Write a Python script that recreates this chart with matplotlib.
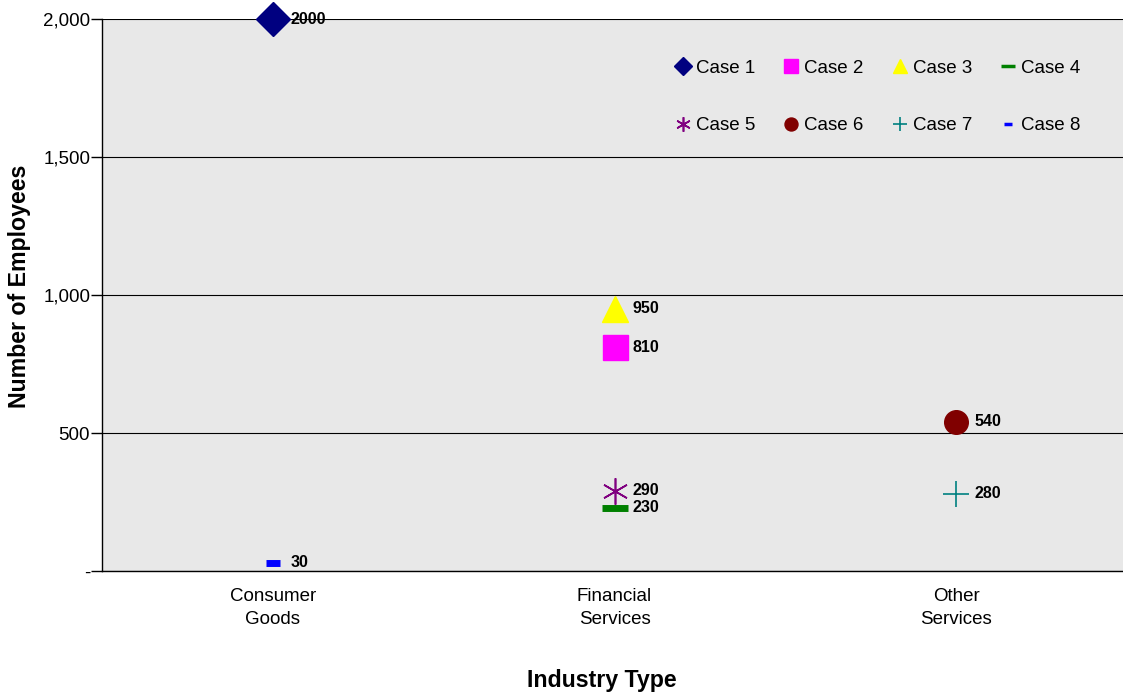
import matplotlib
matplotlib.use("Agg")
import matplotlib.pyplot as plt
from matplotlib.ticker import FixedLocator, FuncFormatter

plt.rcParams['font.family'] = ['Liberation Sans', 'DejaVu Sans']

categories = ["Consumer\nGoods", "Financial\nServices", "Other\nServices"]
case_names = ["Case 1", "Case 2", "Case 3", "Case 4", "Case 5", "Case 6", "Case 7", "Case 8"]
case_category = [0, 1, 1, 1, 1, 2, 2, 0]
case_values = [2000, 810, 950, 230, 290, 540, 280, 30]
case_colors = ["#000080", "#ff00ff", "#ffff00", "#008000", "#800080", "#800000", "#008080", "#0000ff"]
case_markers = ["D", "s", "^", "_", (6, 2, 0), "o", "+", "_"]
case_sizes = [17, 18, 19, 19, 19, 17, 19, 10]
case_edgewidths = [1, 1, 1, 5, 1.2, 1, 1.2, 5]
y_ticks = [0, 500, 1000, 1500, 2000]

W, H = 1123, 693
ax_left, ax_right, ax_top, ax_bottom = 102, 1127, 19, 571

fig = plt.figure(figsize=(W / 100, H / 100), dpi=100)
ax = fig.add_axes([ax_left / W, 1 - ax_bottom / H,
                   (ax_right - ax_left) / W, (ax_bottom - ax_top) / H])
ax.set_facecolor("#e8e8e8")

handles = []
for name, ci, v, col, mk, ms, mew in zip(case_names, case_category, case_values,
                                         case_colors, case_markers, case_sizes, case_edgewidths):
    h, = ax.plot([ci + 0.5], [v], linestyle="none", marker=mk, markersize=ms,
                 color=col, markeredgecolor=col, markeredgewidth=mew, label=name,
                 clip_on=False, zorder=4)
    handles.append(h)
    ax.annotate(str(v), xy=(ci + 0.5, v), xytext=(13, 0), textcoords="offset points",
                fontsize=11.5, fontweight="bold", va="center", ha="left", zorder=5)

ax.set_xlim(0, 3)
ax.set_ylim(0, 2000)
ax.set_xticks([0.5, 1.5, 2.5])
ax.set_xticklabels(categories, fontsize=13.5, linespacing=1.45)
ax.tick_params(axis="x", length=0, pad=12)
ax.yaxis.set_major_locator(FixedLocator(y_ticks))
ax.yaxis.set_major_formatter(FuncFormatter(lambda v, p: "-" if v == 0 else f"{int(v):,}"))
ax.tick_params(axis="y", labelsize=13.5, length=8, width=1, direction="out", pad=0.5)
ax.grid(axis="y", color="#000000", linewidth=0.8)
ax.set_axisbelow(True)
for s in ["top", "right"]:
    ax.spines[s].set_visible(False)
ax.spines["left"].set_linewidth(1)
ax.spines["bottom"].set_linewidth(1)

ax_w = ax_right - ax_left
ax_h = ax_bottom - ax_top
ax.set_xlabel("Industry Type", fontsize=16.7, fontweight="bold", va="center")
ax.xaxis.set_label_coords((602 - ax_left) / ax_w, (ax_bottom - 680) / ax_h)
ax.set_ylabel("Number of Employees", fontsize=16.7, fontweight="bold", va="center")
ax.yaxis.set_label_coords((20 - ax_left) / ax_w, (ax_bottom - 286) / ax_h)

# legend laid out row by row: Case 1-4 on top, Case 5-8 below
order = [0, 4, 1, 5, 2, 6, 3, 7]
leg = ax.legend(handles=[handles[i] for i in order], ncol=4, loc="upper right",
                bbox_to_anchor=((1097 - ax_left) / ax_w, (ax_bottom - 43) / ax_h),
                frameon=False, fontsize=13.5,
                markerscale=0.55, handlelength=0.8, handletextpad=0.3,
                columnspacing=1.5, labelspacing=2.15)
for lh in leg.legend_handles:
    lh.set_markeredgewidth(min(lh.get_markeredgewidth(), 2.5))

fig.savefig("out.png", dpi=100)
